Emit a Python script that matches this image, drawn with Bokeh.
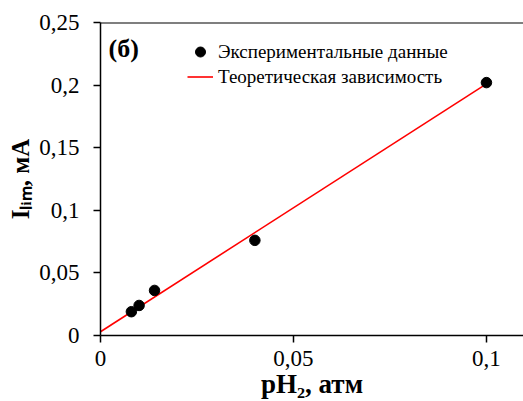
from bokeh.plotting import figure
from bokeh.models import Range1d, FixedTicker, Span, Label, Legend, LegendItem
from bokeh.embed import file_html
from bokeh.resources import INLINE

# ---- data ----
exp_x = [0.008, 0.010, 0.014, 0.040, 0.100]
exp_y = [0.019, 0.024, 0.036, 0.076, 0.202]
theory_x = [0.0, 0.100]
theory_y = [0.003, 0.201]

x_ticks = [0, 0.05, 0.1]
x_tick_labels = ["0", "0,05", "0,1"]
y_ticks = [0, 0.05, 0.1, 0.15, 0.2, 0.25]
y_tick_labels = ["0", "0,05", "0,1", "0,15", "0,2", "0,25"]

legend_labels = ["Экспериментальные данные", "Теоретическая зависимость"]
panel_label = "(б)"
x_title = "pH\u2082, атм"
y_title = "I\u2097\u1d62\u2098, мА"

FONT = "Liberation Serif"

p = figure(width=523, height=401, output_backend="svg", toolbar_location=None,
           x_range=Range1d(0, 0.1096), y_range=Range1d(0, 0.25),
           min_border_left=100, min_border_right=0, min_border_top=22,
           min_border_bottom=66)
p.outline_line_color = None
p.xgrid.visible = False
p.ygrid.visible = False
p.background_fill_color = "white"
p.border_fill_color = "white"

for ax, ticks, labels in ((p.xaxis[0], x_ticks, x_tick_labels),
                          (p.yaxis[0], y_ticks, y_tick_labels)):
    ax.ticker = FixedTicker(ticks=ticks)
    ax.major_label_overrides = {t: l for t, l in zip(ticks, labels)}
    ax.axis_line_color = "black"
    ax.axis_line_width = 1.5
    ax.major_tick_line_color = "black"
    ax.major_tick_line_width = 1.5
    ax.major_tick_in = 0
    ax.major_tick_out = 7
    ax.minor_tick_line_color = None
    ax.major_label_text_font = FONT
    ax.major_label_text_font_size = "23px"
    ax.major_label_text_color = "black"
    ax.axis_label_text_font = FONT
    ax.axis_label_text_font_style = "bold"
    ax.axis_label_text_color = "black"
p.xaxis[0].axis_label_text_font_size = "27px"
p.yaxis[0].axis_label_text_font_size = "25px"
p.yaxis[0].major_label_standoff = 14
p.xaxis[0].major_label_standoff = 8
p.xaxis[0].axis_label = x_title
p.yaxis[0].axis_label = y_title
p.xaxis[0].axis_label_standoff = 0
p.yaxis[0].axis_label_standoff = 2

p.add_layout(Span(location=0.25, dimension="width", line_color="black", line_width=2))

r_line = p.line(theory_x, theory_y, line_color="red", line_width=1.6)
r_pts = p.scatter(exp_x, exp_y, size=10.5, marker="circle",
                  fill_color="black", line_color="black")

legend = Legend(items=[LegendItem(label=legend_labels[0], renderers=[r_pts]),
                       LegendItem(label=legend_labels[1], renderers=[r_line])],
                location=(87, 246), padding=0, margin=0, spacing=0,
                glyph_width=26, glyph_height=25, label_height=25,
                label_standoff=5, border_line_color=None,
                background_fill_alpha=0)
legend.label_text_font = FONT
legend.label_text_font_size = "19px"
legend.label_text_color = "black"
p.add_layout(legend)

# panel label (b), placed in data space near the top-left corner of the frame
p.add_layout(Label(x=0.0021, y=0.2295, text=panel_label,
                   text_baseline="alphabetic",
                   text_font=FONT, text_font_size="26px", text_font_style="bold",
                   text_color="black"))

open("out.html", "w").write(file_html(p, INLINE))
